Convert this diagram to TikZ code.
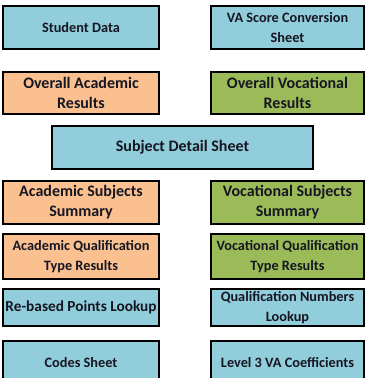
\documentclass[tikz,border=0pt]{standalone}
\usepackage{fontspec}
\setmainfont{Carlito}
\usetikzlibrary{positioning}

\definecolor{sheetblue}{RGB}{146,205,220}
\definecolor{acadorange}{RGB}{250,192,144}
\definecolor{vocgreen}{RGB}{155,187,89}
\definecolor{boxtext}{RGB}{22,22,34}

\begin{document}
\begin{tikzpicture}[x=1pt,y=1pt,node distance=10pt]
\tikzstyle{every node}=[draw=black, line width=1.6pt, align=center, text=boxtext, inner sep=0pt]
\tikzstyle{small}=[font=\fontsize{14.3}{20}\selectfont\bfseries]
\tikzstyle{mid}=[font=\fontsize{15.3}{20}\selectfont\bfseries]
\tikzstyle{large}=[font=\fontsize{16}{20}\selectfont\bfseries]
\tikzstyle{sheet}=[fill=sheetblue]
\tikzstyle{acad}=[fill=acadorange, large]
\tikzstyle{voc}=[fill=vocgreen, large]
\tikzstyle{lcol}=[minimum width=156.4pt]
\tikzstyle{rcol}=[minimum width=153.4pt]

\useasboundingbox (0,0) rectangle (366,-378);

% left column
\node[sheet, small, lcol, minimum height=43.4pt] (SD) at (81,-27.5) {Student Data};
\node[acad, lcol, minimum height=42.4pt, below=21pt of SD] (OA) {Overall Academic\\Results};
\node[acad, lcol, minimum height=43.4pt, below=65pt of OA] (AS) {Academic Subjects\\Summary};
\node[acad, small, lcol, minimum height=45.4pt, below=8pt of AS] (AQ) {Academic Qualification\\Type Results};
\node[sheet, mid, lcol, minimum height=37.4pt, below=8pt of AQ] (RP) {Re-based Points Lookup};
\node[sheet, small, lcol, minimum height=43.4pt, below=13pt of RP] (CS) {Codes Sheet};

% right column
\node[sheet, small, rcol, minimum height=43.4pt, right=50pt of SD] (VA) {VA Score Conversion\\Sheet};
\node[voc, rcol, minimum height=42.4pt, right=50pt of OA] (OV) {Overall Vocational\\Results};
\node[voc, rcol, minimum height=43.4pt, right=50pt of AS] (VS) {Vocational Subjects\\Summary};
\node[voc, small, rcol, minimum height=45.4pt, right=50pt of AQ] (VQ) {Vocational Qualification\\Type Results};
\node[sheet, small, rcol, minimum height=37.4pt, right=50pt of RP] (QN) {Qualification Numbers\\Lookup};
\node[sheet, small, rcol, minimum height=43.4pt, right=50pt of CS] (L3) {Level 3 VA Coefficients};

% centre
\node[sheet, large, minimum width=261.4pt, minimum height=43.4pt] (SDS) at (182.5,-147.5) {Subject Detail Sheet};
\end{tikzpicture}
\end{document}
